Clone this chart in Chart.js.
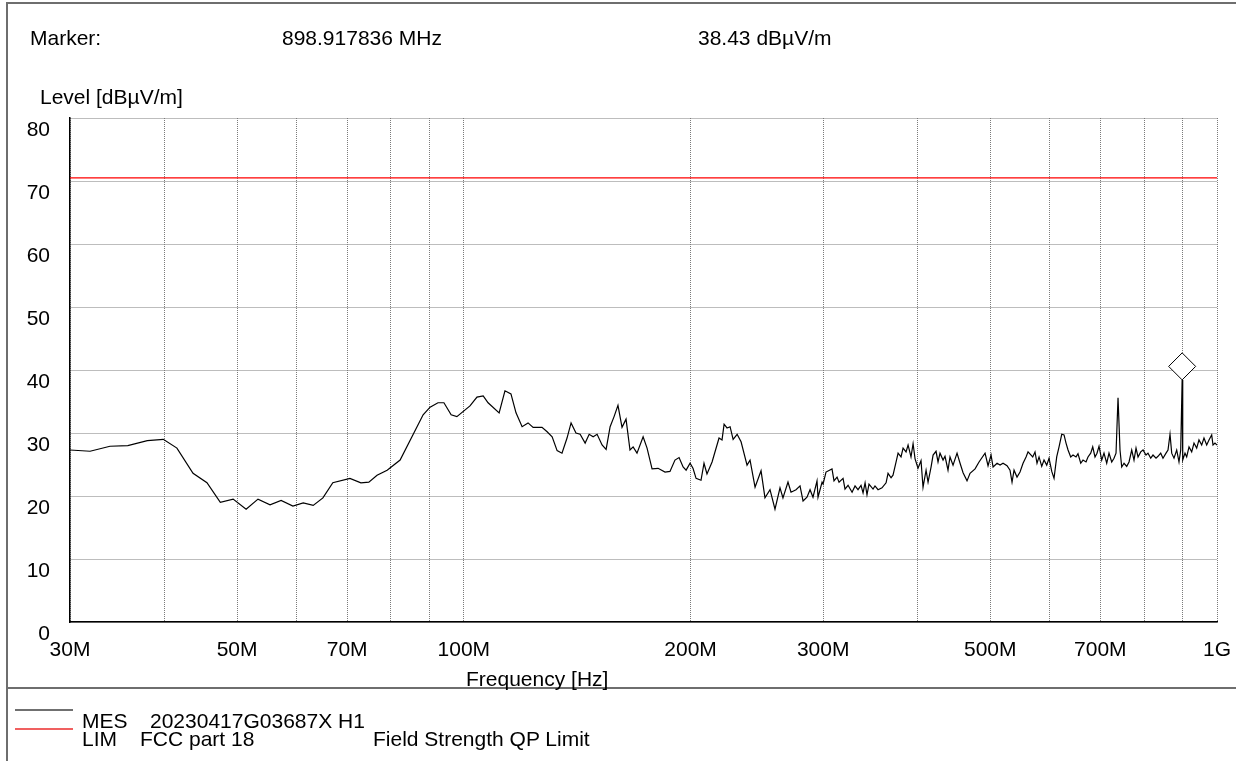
<!DOCTYPE html>
<html><head><meta charset="utf-8">
<script src="https://cdn.jsdelivr.net/npm/chart.js@4.4.0/dist/chart.umd.min.js"></script>
<style>
html,body{margin:0;padding:0;background:#fff;}
body{width:1236px;height:761px;position:relative;overflow:hidden;font-family:"Liberation Sans",Arial,sans-serif;font-size:21px;color:#000;}
#c{position:absolute;left:0;top:0;}
.t{position:absolute;line-height:21px;white-space:pre;}
.ln{position:absolute;}
</style></head><body>
<canvas id="c" width="1236" height="761"></canvas>
<div class="ln" style="left:6px;top:2px;width:1230px;height:2px;background:#6e6e6e"></div>
<div class="ln" style="left:6px;top:2px;width:2px;height:759px;background:#6e6e6e"></div>
<div class="ln" style="left:6px;top:687px;width:1230px;height:2px;background:#6e6e6e"></div>
<div class="ln" style="left:15px;top:709px;width:58px;height:2px;background:#707070"></div>
<div class="ln" style="left:15px;top:728px;width:58px;height:2px;background:#f06060"></div>
<div class="t" style="left:30px;top:27px">Marker:</div>
<div class="t" style="left:282px;top:27px">898.917836 MHz</div>
<div class="t" style="left:698px;top:27px">38.43 dBµV/m</div>
<div class="t" style="left:40px;top:86px">Level [dBµV/m]</div>
<div class="t" style="left:466px;top:668px">Frequency [Hz]</div>
<div class="t" style="left:82px;top:710px">MES</div>
<div class="t" style="left:150px;top:710px">20230417G03687X H1</div>
<div class="t" style="left:82px;top:728px">LIM</div>
<div class="t" style="left:140px;top:728px">FCC part 18</div>
<div class="t" style="left:373px;top:728px">Field Strength QP Limit</div>
<script>
const freqMHz = [30.0,31.9,33.9,35.8,38.0,39.9,41.6,43.7,45.6,47.5,49.4,51.4,53.3,55.3,57.2,59.3,61.2,63.1,65.0,67.0,70.6,73.0,74.8,76.7,79.1,82.3,88.3,90.2,92.4,94.1,96.2,97.9,101.9,104.1,
106.1,107.7,111.4,113.4,115.5,117.3,119.5,121.7,123.6,127.0,129.0,131.0,133.0,135.0,137.1,138.8,140.9,142.7,144.9,146.7,148.5,150.3,152.6,154.5,156.4,158.3,160.2,162.2,164.2,166.2,167.8,169.8,173.0,175.1,177.8,181.1,185.0,
187.8,190.7,193.1,195.5,197.3,199.7,201.5,203.4,206.5,208.4,210.3,213.6,218.2,220.2,221.6,223.6,225.7,227.8,230.6,233.4,237.7,239.9,243.6,248.1,251.1,255.0,258.9,262.9,265.3,269.4,271.9,276.1,279.5,282.1,285.5,288.2,290.8,294.4,295.3,299.0,299.9,302.6,308.2,310.1,313.0,314.9,318.8,320.7,323.7,327.7,330.7,333.7,336.8,338.9,341.0,343.0,345.1,
349.4,351.5,354.8,359.1,363.6,365.8,369.2,371.4,374.9,377.2,380.6,383.0,386.5,388.9,392.4,394.9,397.3,400.9,404.6,407.1,410.9,413.4,417.2,419.8,423.6,426.2,428.8,432.8,435.4,439.4,442.1,446.2,451.7,455.9,460.1,465.7,470.0,477.3,483.1,492.1,496.6,501.2,504.3,510.5,515.2,519.9,526.3,531.1,534.4,537.7,542.6,547.6,552.7,557.8,561.2,
569.3,573.3,576.8,580.4,585.2,589.3,594.2,598.4,603.4,607.6,612.6,617.0,622.1,626.5,630.3,634.2,639.4,643.9,649.9,653.8,659.3,663.9,670.0,674.1,679.7,683.9,688.7,692.9,697.2,703.0,707.9,713.8,718.8,724.8,729.9,734.4,738.9,743.4,747.3,752.6,758.8,764.2,770.5,775.9,780.7,785.5,792.0,797.6,804.9,809.8,816.6,822.3,829.9,835.0,841.9,847.8,855.7,860.9,866.2,870.7,876.8,884.1,890.3,895.0,898.917836,900.5,906.8,911.5,918.0,925.6,932.1,939.8,946.4,954.3,961.0,969.0,975.8,983.9,987.9,993.9,1000];
const levelDb = [27.3,27.1,27.9,28.0,28.8,29.0,27.6,23.6,22.1,19.0,19.5,17.9,19.5,18.6,19.3,18.4,18.9,18.5,19.7,22.1,22.8,22.1,22.2,23.3,24.1,25.7,32.9,34.1,34.8,34.8,32.9,32.6,34.3,35.7,
35.9,34.8,33.2,36.7,36.2,33.2,31.0,31.6,30.9,30.9,30.2,29.4,27.2,26.8,29.2,31.6,30.0,29.8,28.4,29.8,29.4,29.8,28.1,27.4,31.0,32.6,34.4,30.9,32.2,27.3,27.8,26.8,29.4,27.6,24.3,24.4,23.8,
23.9,25.7,26.1,24.6,24.1,25.2,24.4,22.8,22.5,25.2,23.5,25.4,29.2,28.9,31.4,30.8,31.0,29.0,29.8,28.6,24.9,25.7,21.4,24.0,19.7,21.0,17.9,21.3,19.7,22.2,20.6,21.0,21.6,19.2,19.8,21.0,19.8,22.4,19.8,22.2,21.9,23.8,24.3,22.4,23.0,22.2,22.8,21.1,21.7,20.6,21.6,21.0,21.7,20.5,22.1,20.2,21.9,
21.1,21.6,21.0,21.3,22.1,23.6,22.9,23.3,25.4,26.8,26.2,27.6,27.0,28.1,26.2,28.3,25.9,24.4,25.6,21.4,24.1,22.2,24.6,26.5,27.1,25.4,26.8,25.7,26.3,24.1,26.2,24.9,26.8,25.2,23.7,22.4,23.6,24.3,25.4,26.8,24.8,26.5,24.6,25.2,24.9,25.2,24.8,24.1,22.2,24.1,23.0,23.8,25.2,26.2,27.0,
26.2,27.0,25.2,26.2,24.7,25.7,24.9,26.0,23.9,22.8,26.2,27.8,29.8,29.7,28.4,27.3,26.2,26.5,26.2,26.7,25.2,25.7,25.4,26.2,26.8,27.8,26.2,26.8,27.9,25.7,26.8,25.2,26.8,25.4,26.0,26.8,35.6,27.3,24.6,25.2,24.7,25.4,27.3,25.7,27.6,26.2,27.0,27.3,26.5,26.8,26.0,26.5,26.0,26.3,26.8,26.0,26.8,27.3,29.8,26.8,26.0,27.3,25.4,27.3,38.43,25.7,26.8,26.2,27.8,27.0,28.4,27.6,28.9,28.1,29.2,28.1,28.9,29.7,28.1,28.4,28.1];
const limitFreq = [30, 1000];
const limitLevel = [70.5, 70.5];
const gridFreq = [30,40,50,60,70,80,90,100,200,300,400,500,600,700,800,900,1000];
const labelFreq = [30,50,70,100,200,300,500,700,1000];
const markerFreq = 898.917836;
const markerLevel = 38.43;

const FONT = '"Liberation Sans", Arial, sans-serif';
Chart.defaults.font.family = FONT;
Chart.defaults.font.size = 21;
Chart.defaults.color = '#000';

const mes = freqMHz.map((f,i)=>({x:f,y:levelDb[i]}));
const lim = limitFreq.map((f,i)=>({x:f,y:limitLevel[i]}));
const fmt = v => v >= 1000 ? (v/1000)+'G' : v+'M';

const markerPlugin = {
  id:'marker',
  afterDatasetsDraw(chart){
    const {ctx, scales:{x,y}} = chart;
    const px = x.getPixelForValue(markerFreq), py = y.getPixelForValue(markerLevel);
    const h = 13.5;
    ctx.save();
    ctx.beginPath();
    ctx.moveTo(px, py);
    ctx.lineTo(px+h, py-h);
    ctx.lineTo(px, py-2*h);
    ctx.lineTo(px-h, py-h);
    ctx.closePath();
    ctx.fillStyle='#fff';
    ctx.fill();
    ctx.strokeStyle='#000';
    ctx.lineWidth=1;
    ctx.stroke();
    ctx.restore();
  }
};

new Chart(document.getElementById('c'), {
  type:'line',
  data:{datasets:[
    {label:'MES', data:mes, borderColor:'#000', borderWidth:1.2, pointRadius:0, tension:0, order:1},
    {label:'LIM', data:lim, borderColor:'#ff0000', borderWidth:1.3, pointRadius:0, tension:0, order:2}
  ]},
  options:{
    responsive:false, animation:false, devicePixelRatio:1,
    layout:{padding:{top:118, right:19, bottom:0, left:0}},
    plugins:{legend:{display:false}, tooltip:{enabled:false}},
    scales:{
      x:{type:'logarithmic', min:30, max:1000,
        afterBuildTicks:s=>{ s.ticks = gridFreq.map(v=>({value:v})); },
        afterFit:s=>{ s.height = 139; s.paddingLeft = 0; s.paddingRight = 0; },
        ticks:{autoSkip:false, maxRotation:0, minRotation:0, padding:16, font:{size:21},
          callback:v=> labelFreq.includes(v) ? fmt(v) : ''},
        grid:{color:'#7a7a7a', lineWidth:1, drawTicks:false},
        border:{display:true, color:'#000', width:1.5, dash:[1,1]}
      },
      y:{min:0, max:80,
        afterFit:s=>{ s.width = 70; s.paddingTop = 0; s.paddingBottom = 0; },
        ticks:{stepSize:10, labelOffset:12, padding:20, font:{size:21}},
        grid:{color:'#7a7a7a', lineWidth:1, drawTicks:false},
        border:{display:true, color:'#000', width:1.5, dash:[1,1]}
      }
    }
  },
  plugins:[markerPlugin]
});
</script>
</body></html>
